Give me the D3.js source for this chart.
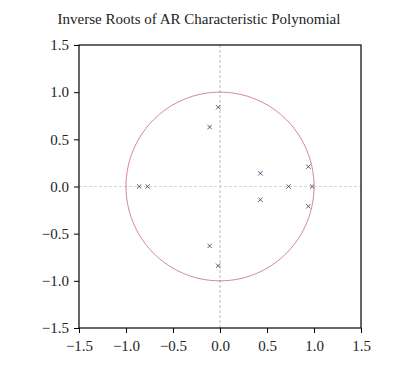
<!DOCTYPE html>
<html>
<head>
<meta charset="utf-8">
<script src="https://cdn.jsdelivr.net/npm/d3@7"></script>
<style>
  body { margin: 0; background: #fff; }
  text { font-family: "Liberation Serif", "DejaVu Serif", serif; }
</style>
</head>
<body>
<div id="chart"></div>
<script>
// inverse roots (real / imaginary parts)
var rootRe = [-0.86, -0.77, -0.02, -0.02, -0.11, -0.11, 0.43, 0.43, 0.73, 0.98, 0.94, 0.94];
var rootIm = [0, 0, 0.84, -0.84, 0.63, -0.63, 0.14, -0.14, 0, 0, 0.21, -0.21];
var ticks = [-1.5, -1.0, -0.5, 0.0, 0.5, 1.0, 1.5];

var margin = {top: 45, right: 44, bottom: 44, left: 79},
    width = 405 - margin.left - margin.right,
    height = 372 - margin.top - margin.bottom;

var svg = d3.select("#chart")
  .append("svg")
    .attr("width", 405)
    .attr("height", 372);

svg.append("text")
  .attr("x", 199)
  .attr("y", 24)
  .attr("text-anchor", "middle")
  .attr("fill", "#222")
  .style("font-size", "15px")
  .text("Inverse Roots of AR Characteristic Polynomial");

var g = svg.append("g")
  .attr("transform", "translate(" + margin.left + "," + margin.top + ")");

var x = d3.scaleLinear().domain([-1.5, 1.5]).range([0, width]);
var y = d3.scaleLinear().domain([-1.5, 1.5]).range([height, 0]);

// zero lines
g.append("line")
  .attr("x1", x(0)).attr("x2", x(0))
  .attr("y1", 0).attr("y2", height)
  .attr("stroke", "#aaa").attr("stroke-dasharray", "3,2").attr("stroke-width", 0.8);
g.append("line")
  .attr("x1", 0).attr("x2", width)
  .attr("y1", y(0)).attr("y2", y(0))
  .attr("stroke", "#ccc").attr("stroke-dasharray", "3,2").attr("stroke-width", 0.8);

// unit circle
var circ = d3.range(0, 361).map(function(a) {
  var t = a * Math.PI / 180;
  return [Math.cos(t), Math.sin(t)];
});
g.append("path")
  .datum(circ)
  .attr("fill", "none")
  .attr("stroke", "#c0505a")
  .attr("stroke-width", 0.7)
  .attr("d", d3.line().x(function(d) { return x(d[0]); }).y(function(d) { return y(d[1]); }));

// roots
var pts = rootRe.map(function(r, i) { return {re: r, im: rootIm[i]}; });
g.selectAll("path.root")
  .data(pts)
  .enter().append("path")
    .attr("class", "root")
    .attr("d", d3.symbol().type(d3.symbolX).size(14))
    .attr("transform", function(d) { return "translate(" + x(d.re) + "," + y(d.im) + ")"; })
    .attr("stroke", "#3a4a7a")
    .attr("stroke-width", 0.9)
    .attr("fill", "none");

// frame
g.append("rect")
  .attr("width", width).attr("height", height)
  .attr("fill", "none").attr("stroke", "#000").attr("stroke-width", 1.2);

var xAxis = g.append("g")
  .attr("transform", "translate(0," + height + ")")
  .call(d3.axisBottom(x).tickValues(ticks).tickFormat(d3.format(".1f")).tickSize(5).tickPadding(7));
var yAxis = g.append("g")
  .call(d3.axisLeft(y).tickValues(ticks).tickFormat(d3.format(".1f")).tickSize(5).tickPadding(5));

[xAxis, yAxis].forEach(function(a) {
  a.select(".domain").remove();
  a.selectAll("text").style("font-size", "15px").attr("fill", "#222")
    .style("font-family", '"Liberation Serif", serif');
});
</script>
</body>
</html>
